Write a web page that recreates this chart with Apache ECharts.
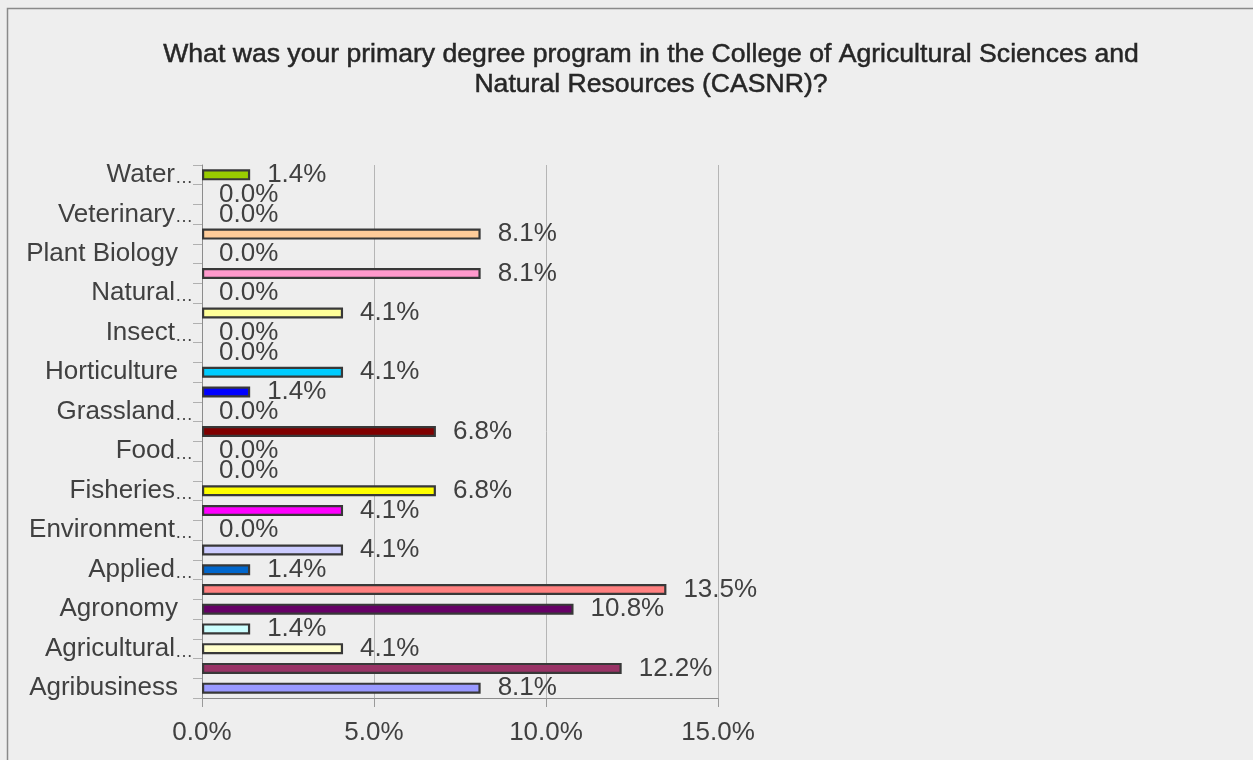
<!DOCTYPE html>
<html><head><meta charset="utf-8">
<script src="https://cdn.jsdelivr.net/npm/echarts@6/dist/echarts.min.js"></script>
<style>html,body{margin:0;padding:0;background:#eeeeee}#c{width:1253px;height:760px}</style>
</head><body><div id="c"></div>
<script>
const titleLines = [
  'What was your primary degree program in the College of Agricultural Sciences and',
  'Natural Resources (CASNR)?'
];
// categories from bottom (index 0) to top; only every other label is displayed
const categories = [
  'Agribusiness', 'Agricultural…', 'Agricultural…', 'Agricultural…', 'Agronomy',
  'Animal…', 'Applied…', 'Biochemistry', 'Environment…', 'Environmental…',
  'Fisheries…', 'Food…', 'Food…', 'Forensic…', 'Grassland…',
  'Grazing…', 'Horticulture', 'Hospitality…', 'Insect…', 'Mechanized…',
  'Natural…', 'Nutrition…', 'Plant Biology', 'Professional…', 'Veterinary…',
  'Veterinary…', 'Water…'
];
const values = [
  8.1, 12.2, 4.1, 1.4, 10.8,
  13.5, 1.4, 4.1, 0.0, 4.1,
  6.8, 0.0, 0.0, 6.8, 0.0,
  1.4, 4.1, 0.0, 0.0, 4.1,
  0.0, 8.1, 0.0, 8.1, 0.0,
  0.0, 1.4
];
const barColors = [
  '#9999FF', '#993366', '#FFFFCC', '#CCFFFF', '#660066',
  '#FF8080', '#0066CC', '#CCCCFF', '#000080', '#FF00FF',
  '#FFFF00', '#00FFFF', '#800080', '#800000', '#008080',
  '#0000FF', '#00CCFF', '#CCFFFF', '#CCFFCC', '#FFFF99',
  '#99CCFF', '#FF99CC', '#CC99FF', '#FFCC99', '#3366FF',
  '#33CCCC', '#99CC00'
];
const xMin = 0, xMax = 15, xStep = 5;

const FONT = 'Liberation Sans, Arial, sans-serif';
const TXT = '#404040';
const chart = echarts.init(document.getElementById('c'), null, {renderer: 'canvas'});
chart.setOption({
  backgroundColor: '#eeeeee',
  animation: false,
  graphic: [
    {type: 'rect', shape: {x: 7.5, y: 8.5, width: 1400, height: 900},
     style: {fill: 'none', stroke: '#8a8a8a', lineWidth: 1.5}, silent: true},
    {type: 'text', x: 651, y: 40,
     style: {text: titleLines.join('\n'), fontFamily: FONT, fontSize: 26.6, lineHeight: 30,
             fill: '#262626', stroke: '#262626', lineWidth: 0.5,
             align: 'center', verticalAlign: 'top'}}
  ],
  grid: {left: 202, right: 535, top: 165, bottom: 62, containLabel: false},
  xAxis: {
    type: 'value', min: xMin, max: xMax, interval: xStep,
    axisLine: {show: true, lineStyle: {color: '#8c8c8c', width: 1}},
    axisTick: {show: true, length: 9, lineStyle: {color: '#9a9a9a'}},
    splitLine: {show: true, lineStyle: {color: '#b5b5b5', width: 1}},
    axisLabel: {formatter: v => v.toFixed(1) + '%', fontFamily: FONT, fontSize: 26,
                color: TXT, margin: 22}
  },
  yAxis: {
    type: 'category', data: categories,
    axisLine: {show: true, lineStyle: {color: '#8c8c8c', width: 1}},
    axisTick: {show: true, interval: 0, length: 9, lineStyle: {color: '#b0b0b0'}},
    axisLabel: {
      interval: 1, margin: 9, fontFamily: FONT, fontSize: 26, color: TXT,
      formatter: v => v.endsWith('…')
        ? '{t|' + v.slice(0, -1) + '}{e|…}'
        : '{p|' + v + '}',
      rich: {
        t: {fontFamily: FONT, fontSize: 26, color: TXT},
        e: {fontFamily: FONT, fontSize: 18, color: TXT, padding: [6, 0, 0, 0]},
        p: {fontFamily: FONT, fontSize: 26, color: TXT, padding: [0, 15, 0, 0]}
      }
    }
  },
  series: [{
    type: 'bar', barWidth: 11,
    data: values.map((v, i) => ({
      value: v,
      itemStyle: {color: barColors[i], borderColor: '#383838', borderWidth: v > 0 ? 2.2 : 0}
    })),
    label: {show: true, position: 'right', distance: 17,
            formatter: p => p.value.toFixed(1) + '%',
            fontFamily: FONT, fontSize: 26, color: TXT}
  }]
});
</script></body></html>
